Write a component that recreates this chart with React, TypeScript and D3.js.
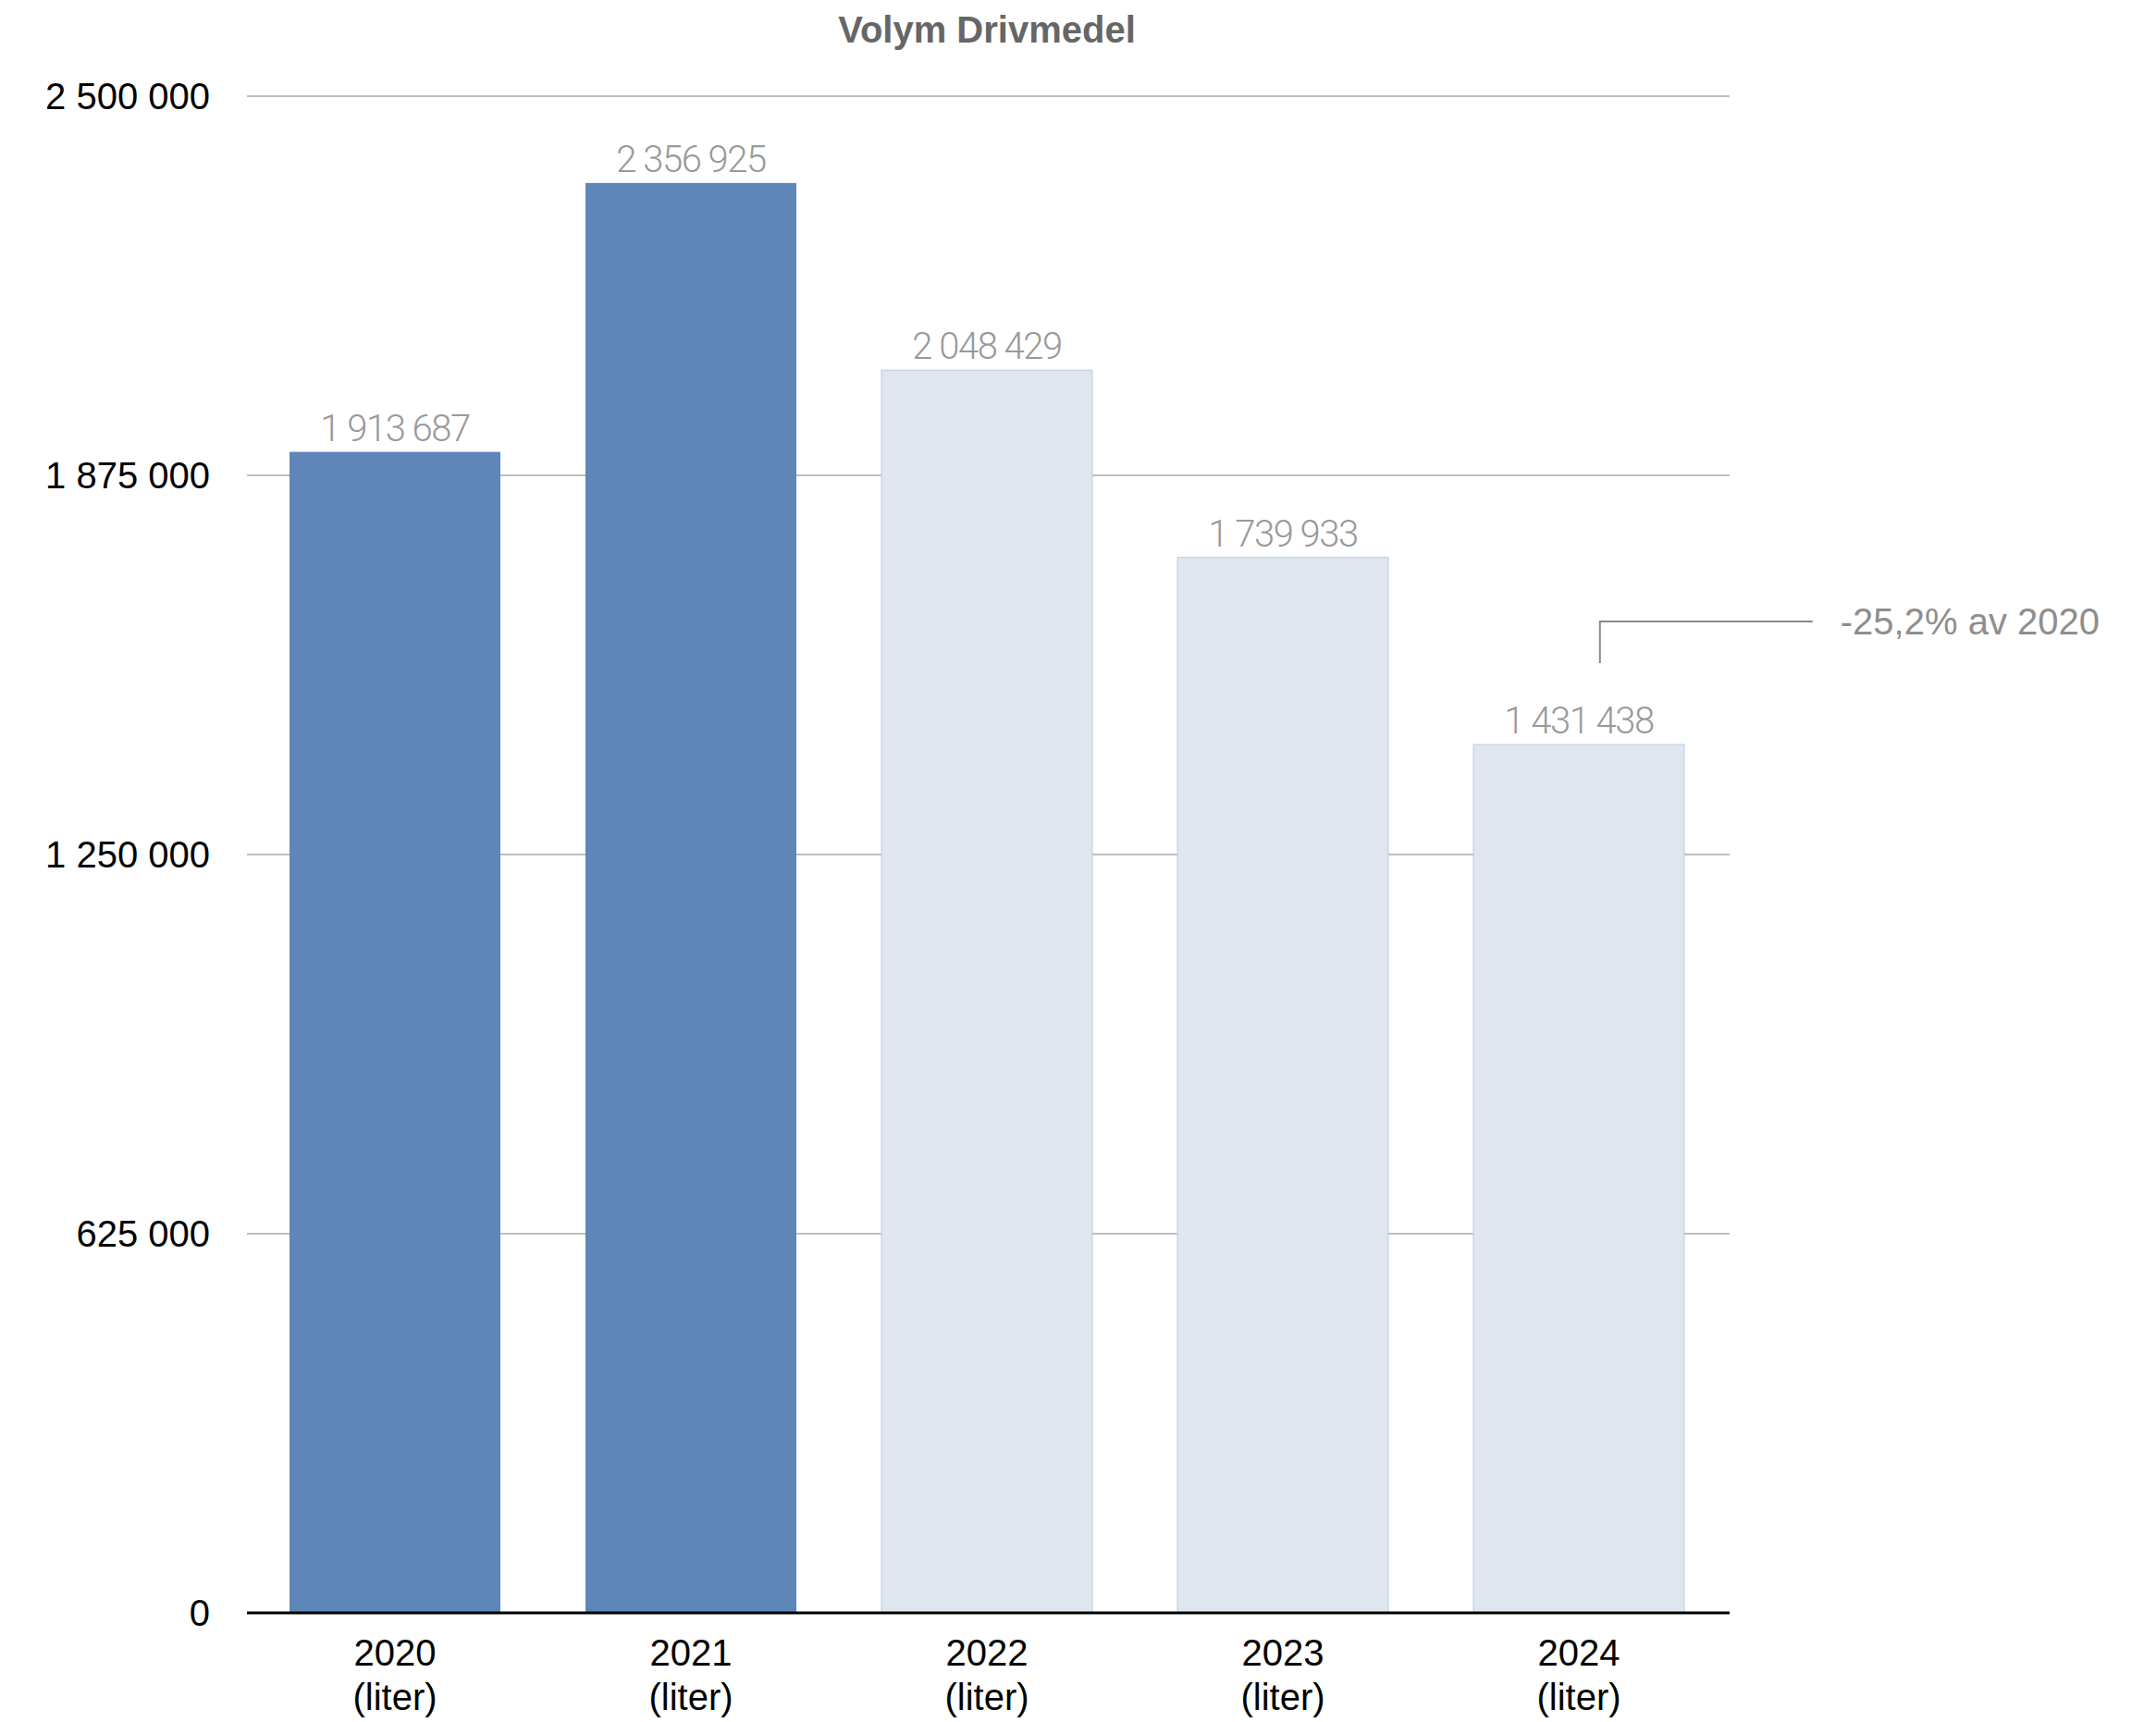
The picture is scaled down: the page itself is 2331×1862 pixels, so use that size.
import React from 'react';
import * as d3 from 'd3';

const categories = ['2020', '2021', '2022', '2023', '2024'];
const unitLabel = '(liter)';
const values = [1913687, 2356925, 2048429, 1739933, 1431438];
const highlighted = ['2020', '2021'];
const yTicks = [0, 625000, 1250000, 1875000, 2500000];
const yMax = 2500000;
const title = 'Volym Drivmedel';
const annotationText = '-25,2% av 2020';
const annotationCategory = '2024';

const W = 2331;
const H = 1862;
const M = { left: 267, right: 1867, top: 104, bottom: 1744 };

const fmt = (v: number) => d3.format(',')(v).replace(/,/g, ' ');

export default function App() {
  const x = d3
    .scaleBand<string>()
    .domain(categories)
    .range([M.left, M.right])
    .paddingInner(0.2875)
    .paddingOuter(0.14375);
  const y = d3.scaleLinear().domain([0, yMax]).range([M.bottom, M.top]);
  const font = '"Liberation Sans", Arial, Helvetica, sans-serif';
  const lightFont = 'Roboto, "Liberation Sans", Arial, sans-serif';

  const annX = (x(annotationCategory) as number) + x.bandwidth() * 0.6;
  const annIdx = categories.indexOf(annotationCategory);
  const annTopY = y(values[annIdx]) - 133;
  const annBottomY = annTopY + 45;

  return (
    <svg
      width={W}
      height={H}
      style={{ position: 'absolute', left: 0, top: 0, display: 'block', background: '#fff' }}
    >
      <text
        x={(M.left + M.right) / 2}
        y={46}
        textAnchor="middle"
        fontFamily={font}
        fontWeight="bold"
        fontSize={40}
        fill="#666666"
      >
        {title}
      </text>

      {yTicks.filter((t) => t !== 0).map((t) => (
        <line key={'g' + t} x1={M.left} x2={1870} y1={y(t)} y2={y(t)} stroke="#bdbdbd" strokeWidth={2} />
      ))}

      {yTicks.map((t) => (
        <text
          key={'t' + t}
          x={227}
          y={y(t)}
          dy="0.36em"
          textAnchor="end"
          fontFamily={font}
          fontSize={40}
          fill="#000"
        >
          {fmt(t)}
        </text>
      ))}

      {categories.map((c, i) => {
        const hl = highlighted.includes(c);
        const bx = x(c) as number;
        const by = y(values[i]);
        return (
          <g key={c}>
            <rect
              x={bx}
              y={by}
              width={x.bandwidth()}
              height={M.bottom - by}
              fill={hl ? '#5e86b8' : '#dfe6f0'}
              stroke={hl ? 'none' : '#bccbe2'}
              strokeWidth={hl ? 0 : 1}
            />
            <text
              x={bx + x.bandwidth() / 2}
              y={by - 12}
              textAnchor="middle"
              fontFamily={lightFont}
              fontWeight={300}
              fontSize={40}
              letterSpacing={-1.5}
              fill="#999999"
            >
              {fmt(values[i])}
            </text>
            <text
              x={bx + x.bandwidth() / 2}
              y={1801}
              textAnchor="middle"
              fontFamily={font}
              fontSize={40}
              fill="#000"
            >
              {c}
            </text>
            <text
              x={bx + x.bandwidth() / 2}
              y={1849}
              textAnchor="middle"
              fontFamily={font}
              fontSize={40}
              fill="#000"
            >
              {unitLabel}
            </text>
          </g>
        );
      })}

      <line x1={M.left} x2={1870} y1={y(0)} y2={y(0)} stroke="#000" strokeWidth={3} />

      <path
        d={`M${annX},${annBottomY} L${annX},${annTopY} L${annX + 230},${annTopY}`}
        fill="none"
        stroke="#8a8a8a"
        strokeWidth={2}
      />
      <text
        x={annX + 260}
        y={annTopY}
        dy="0.36em"
        fontFamily={font}
        fontSize={40}
        fill="#8e8e8e"
      >
        {annotationText}
      </text>
    </svg>
  );
}
